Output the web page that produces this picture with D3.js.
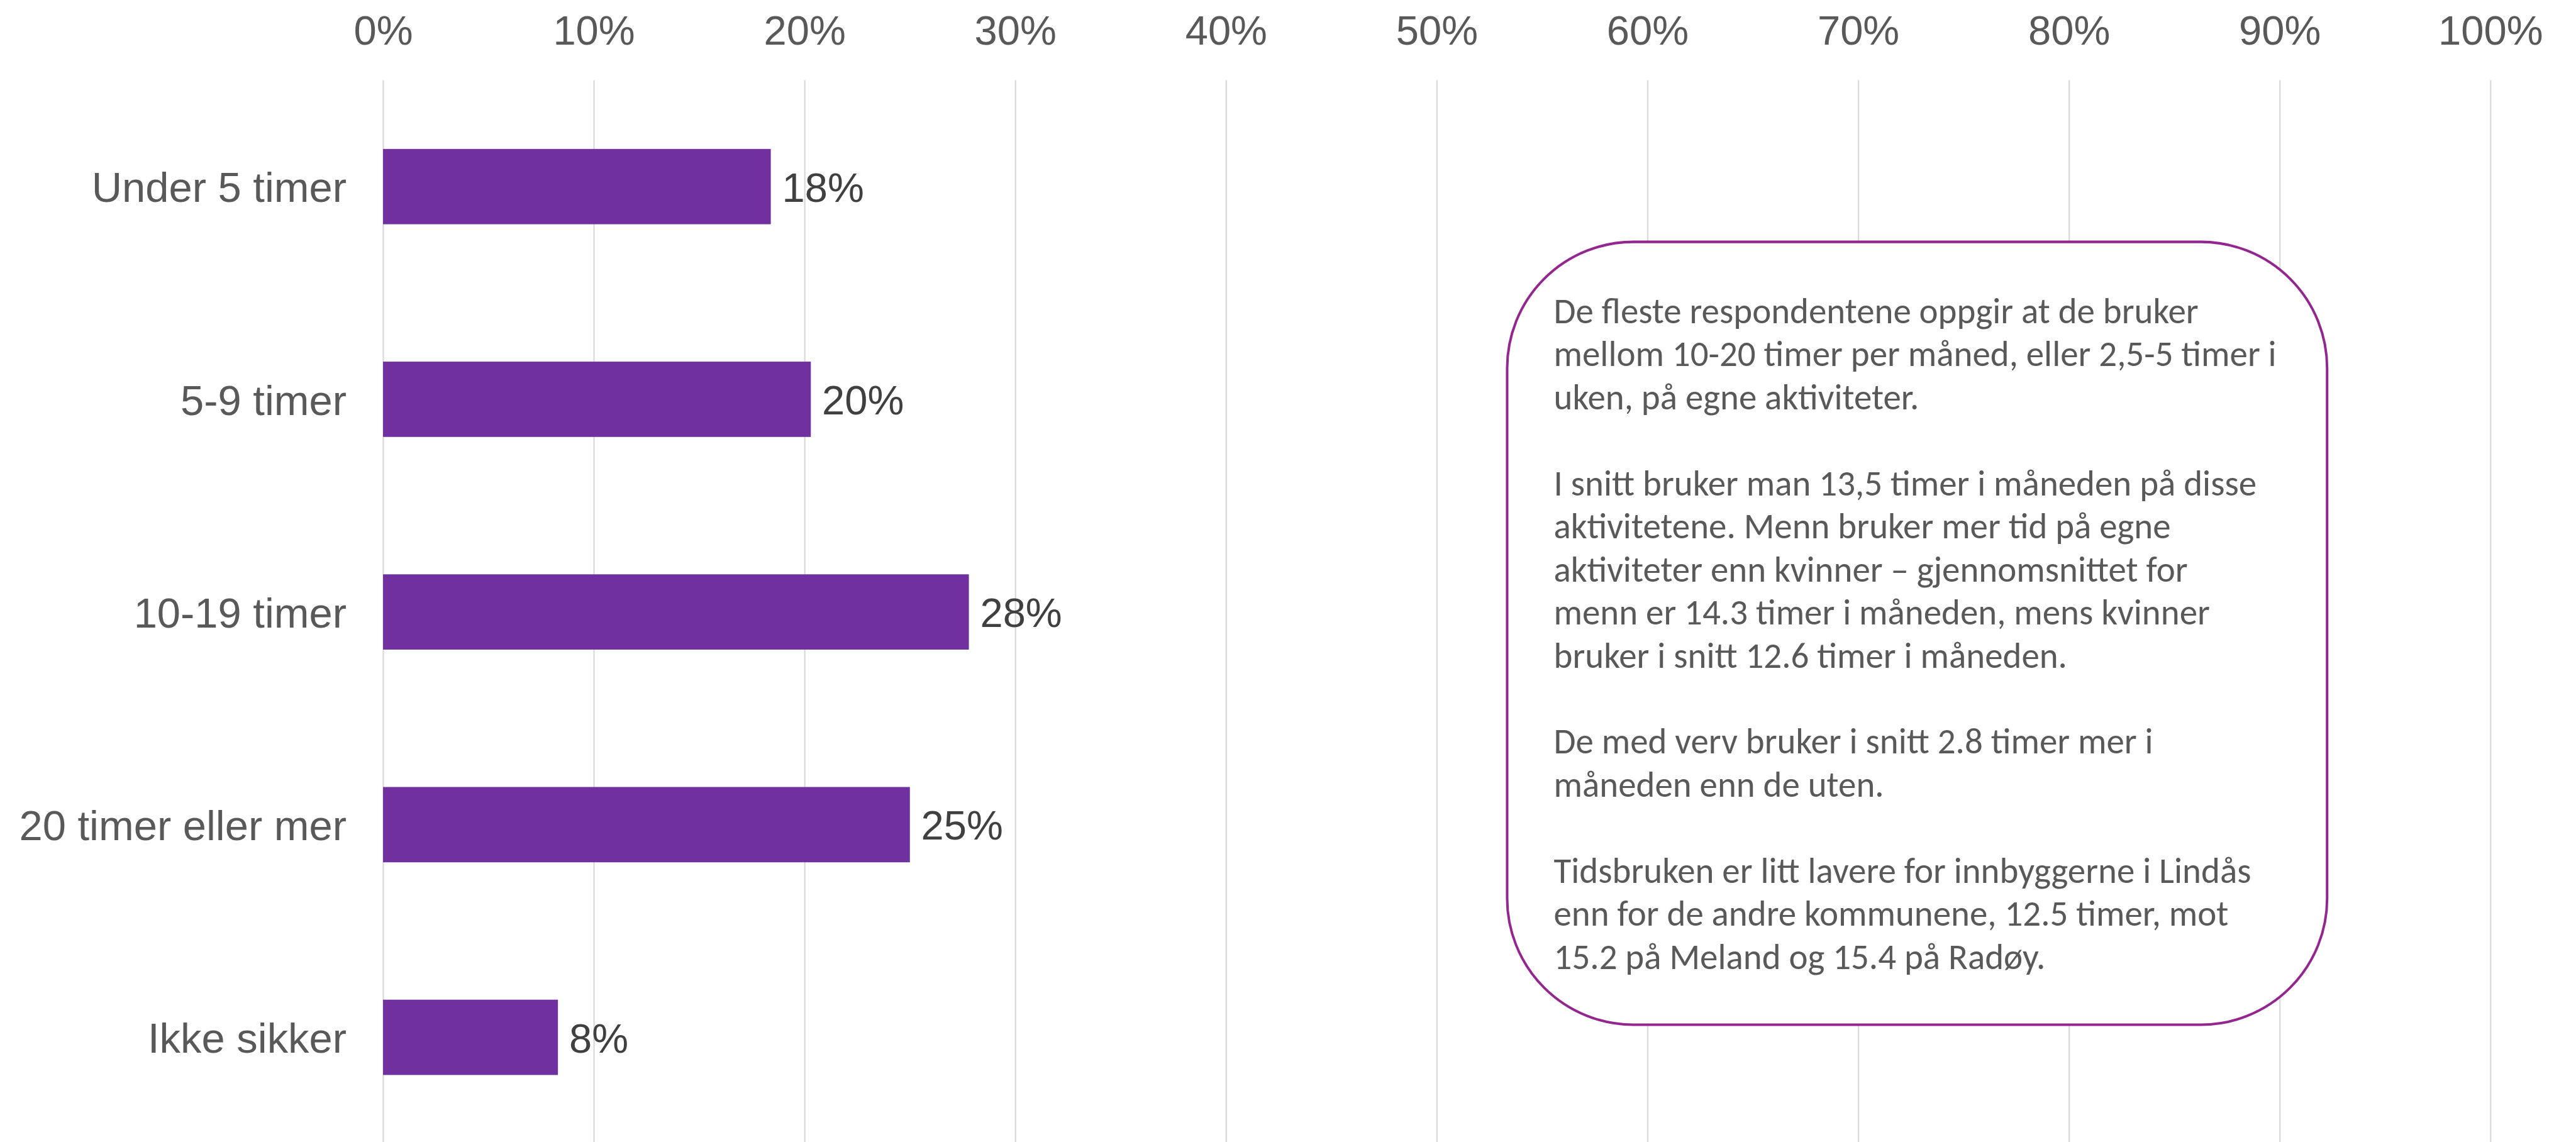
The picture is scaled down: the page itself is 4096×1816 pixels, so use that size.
<!DOCTYPE html>
<html>
<head>
<meta charset="utf-8">
<script src="https://cdn.jsdelivr.net/npm/d3@7"></script>
<style>
  html, body { margin: 0; padding: 0; background: #fff; overflow: hidden; }
</style>
</head>
<body>
<script>
var categories = ["Under 5 timer", "5-9 timer", "10-19 timer", "20 timer eller mer", "Ikke sikker"];
var values = [0.184, 0.203, 0.278, 0.250, 0.083];
var tickValues = [0, 0.1, 0.2, 0.3, 0.4, 0.5, 0.6, 0.7, 0.8, 0.9, 1.0];

var noteLines = [
  "De fleste respondentene oppgir at de bruker",
  "mellom 10-20 timer per måned, eller 2,5-5 timer i",
  "uken, på egne aktiviteter.",
  "",
  "I snitt bruker man 13,5 timer i måneden på disse",
  "aktivitetene. Menn bruker mer tid på egne",
  "aktiviteter enn kvinner – gjennomsnittet for",
  "menn er 14.3 timer i måneden, mens kvinner",
  "bruker i snitt 12.6 timer i måneden.",
  "",
  "De med verv bruker i snitt 2.8 timer mer i",
  "måneden enn de uten.",
  "",
  "Tidsbruken er litt lavere for innbyggerne i Lindås",
  "enn for de andre kommunene, 12.5 timer, mot",
  "15.2 på Meland og 15.4 på Radøy."
];

// drawn in the reference's own pixel space, viewBox scales it down to the window
var W = 4589, H = 2035;
var svg = d3.select("body").append("svg")
    .attr("width", 4096)
    .attr("height", 1816)
    .attr("viewBox", "0 0 " + W + " " + H);

var x = d3.scaleLinear().domain([0, 1]).range([682, 4437]);
var y = d3.scaleBand().domain(categories).range([143, 2038])
    .paddingInner(0.646).paddingOuter(0.323);

var font = "'Liberation Sans', Arial, sans-serif";

// gridlines + top tick labels
var xAxis = svg.append("g")
    .attr("transform", "translate(0,143)")
    .call(d3.axisTop(x).tickValues(tickValues).tickFormat(d3.format(".0%"))
      .tickSize(-(H - 143)).tickPadding(64));
xAxis.select(".domain").remove();
xAxis.selectAll("line").attr("stroke", "#d9d9d9").attr("stroke-width", 2.5);
xAxis.selectAll("text")
    .attr("font-family", font)
    .attr("font-size", 73)
    .attr("fill", "#595959");

// category labels
var yAxis = svg.append("g")
    .attr("transform", "translate(682,0)")
    .call(d3.axisLeft(y).tickSize(0).tickPadding(65));
yAxis.select(".domain").remove();
yAxis.selectAll("text")
    .attr("font-family", font)
    .attr("font-size", 75)
    .attr("dy", "0.37em")
    .attr("fill", "#595959");

// bars
svg.append("g").selectAll("rect")
  .data(values)
  .join("rect")
    .attr("x", x(0))
    .attr("y", (d, i) => y(categories[i]))
    .attr("width", d => x(d) - x(0))
    .attr("height", y.bandwidth())
    .attr("fill", "#7030a0");

// value labels
svg.append("g").selectAll("text")
  .data(values)
  .join("text")
    .attr("x", d => x(d) + 20)
    .attr("y", (d, i) => y(categories[i]) + y.bandwidth() / 2)
    .attr("dy", "0.37em")
    .attr("font-family", font)
    .attr("font-size", 73)
    .attr("fill", "#404040")
    .text(d => d3.format(".0%")(d));

// note box
svg.append("rect")
    .attr("x", 2685)
    .attr("y", 431)
    .attr("width", 1461)
    .attr("height", 1395)
    .attr("rx", 225)
    .attr("ry", 225)
    .attr("fill", "#fff")
    .attr("stroke", "#93278f")
    .attr("stroke-width", 4.5);

var note = svg.append("g").attr("transform", "translate(2768,0)");
var noteText = note.selectAll("text")
  .data(noteLines)
  .join("text")
    .attr("x", 0)
    .attr("y", (d, i) => 576 + i * 76.7)
    .attr("font-family", "Carlito, Calibri, Lato, sans-serif")
    .attr("font-size", 64)
    .attr("fill", "#595959")
    .text(d => d);

// squeeze horizontally so the longest line matches the reference width
var longest = d3.max(noteText.nodes(), n => n.getComputedTextLength());
noteText.attr("transform", "scale(" + (1288 / longest) + ",1)");
</script>
</body>
</html>
